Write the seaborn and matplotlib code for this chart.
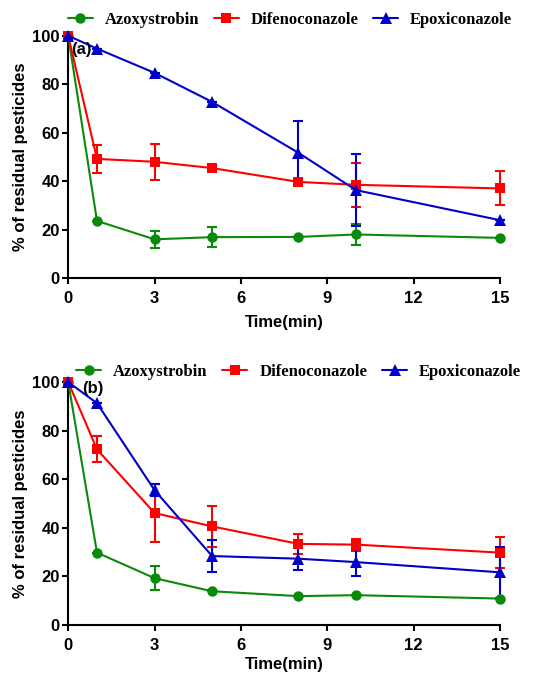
import matplotlib
matplotlib.use('Agg')

import numpy as np
import pandas as pd
import matplotlib.pyplot as plt
import seaborn as sns

sns.set_style("ticks")
plt.rcParams['font.family'] = ['Liberation Sans', 'DejaVu Sans']
plt.rcParams['text.color'] = 'black'
plt.rcParams['axes.labelcolor'] = 'black'
plt.rcParams['xtick.color'] = 'black'
plt.rcParams['ytick.color'] = 'black'

# ─────────────────────────────────────────
# 데이터
# ─────────────────────────────────────────
time_min = [0, 1, 3, 5, 8, 10, 15]
compounds = ["Azoxystrobin", "Difenoconazole", "Epoxiconazole"]

# (a)
azo_a = [100, 23.6, 16.0, 16.9, 17.0, 18.0, 16.6]
azo_a_err = [0, 0, 3.5, 4.0, 0, 4.4, 0]
dif_a = [100, 49.2, 48.0, 45.4, 39.7, 38.5, 37.0]
dif_a_err = [0, 5.8, 7.5, 0, 0, 9.2, 7.0]
epo_a = [100, 94.7, 84.7, 72.7, 51.7, 36.3, 23.9]
epo_a_err = [0, 0, 0, 0, 13.0, 14.8, 0]

# (b)
azo_b = [100, 29.8, 19.3, 13.9, 11.9, 12.3, 10.9]
azo_b_err = [0, 0, 5.0, 0, 0, 0, 0]
dif_b = [100, 72.3, 46.1, 40.6, 33.4, 33.1, 29.8]
dif_b_err = [0, 5.3, 11.9, 8.3, 4.1, 2.5, 6.5]
epo_b = [100, 91.3, 55.5, 28.4, 27.3, 25.9, 21.7]
epo_b_err = [0, 0, 2.5, 6.5, 4.8, 5.6, 10.5]

colors = {"Azoxystrobin": "#0a8a0a", "Difenoconazole": "#ff0000", "Epoxiconazole": "#0000c8"}
markers = {"Azoxystrobin": "o", "Difenoconazole": "s", "Epoxiconazole": "^"}
msizes = {"Azoxystrobin": 7.5, "Difenoconazole": 7.5, "Epoxiconazole": 8.5}

fig = plt.figure(figsize=(5.37, 6.75), dpi=100)
ax_a = fig.add_axes([0.127, 0.588, 0.804, 0.359])
ax_b = fig.add_axes([0.127, 0.074, 0.804, 0.360])

panels = [
    (ax_a, "(a)", [azo_a, dif_a, epo_a], [azo_a_err, dif_a_err, epo_a_err], (0.45, 94.4), (0.540, 0.970), 7),
    (ax_b, "(b)", [azo_b, dif_b, epo_b], [azo_b_err, dif_b_err, epo_b_err], (0.85, 97.5), (0.556, 0.449), 3),
]

for ax, tag, vals, errs, tag_pos, leg_pos, xpad in panels:
    for name, v, e in zip(compounds, vals, errs):
        df = pd.DataFrame({"time": time_min, "value": v})
        ax.errorbar(time_min, v, yerr=e, fmt='none', ecolor=colors[name],
                    elinewidth=1.5, capsize=3.5, capthick=1.5, clip_on=False, zorder=2)
        sns.lineplot(data=df, x="time", y="value", ax=ax, color=colors[name],
                     marker=markers[name], markersize=msizes[name], markeredgewidth=0,
                     linewidth=1.5, label=name, clip_on=False, zorder=3)

    ax.set_xlim(0, 15)
    ax.set_ylim(0, 100)
    ax.set_xticks([0, 3, 6, 9, 12, 15])
    ax.set_yticks([0, 20, 40, 60, 80, 100])
    ax.tick_params(axis='both', labelsize=12, width=1.5, length=4, color='black')
    ax.tick_params(axis='x', pad=5)
    ax.tick_params(axis='y', pad=2)
    for lab in ax.get_xticklabels() + ax.get_yticklabels():
        lab.set_fontweight('bold')
    for side in ['top', 'right']:
        ax.spines[side].set_visible(False)
    for side in ['left', 'bottom']:
        ax.spines[side].set_linewidth(1.5)
        ax.spines[side].set_color('black')
    ax.set_xlabel("Time(min)", fontsize=12, fontweight='bold', labelpad=xpad)
    ax.set_ylabel("% of residual pesticides", fontsize=12, fontweight='bold', labelpad=3)
    ax.text(tag_pos[0], tag_pos[1], tag, fontsize=12, fontweight='bold',
            ha='center', va='center')

    ax.legend(loc='center', bbox_to_anchor=leg_pos, bbox_transform=fig.transFigure,
              ncol=3, frameon=False, handlelength=1.5, columnspacing=0.9, handletextpad=0.7,
              prop={'family': 'Liberation Serif', 'weight': 'bold', 'size': 12})

plt.savefig("out.png", dpi=100)
plt.close()
